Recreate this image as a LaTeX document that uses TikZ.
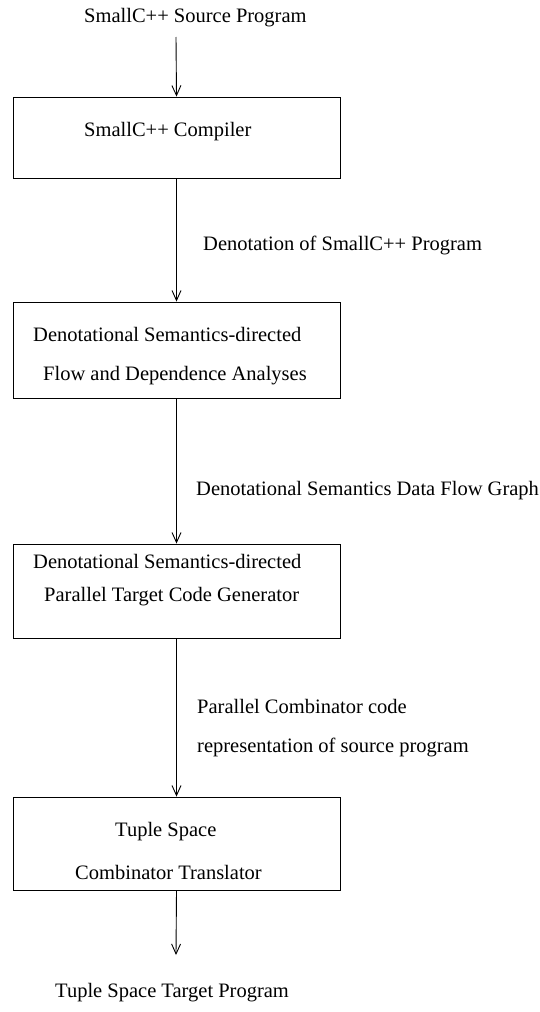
\documentclass[tikz,border=0pt]{standalone}
\usepackage{fontspec}
\setmainfont{Liberation Serif}
\usetikzlibrary{arrows.meta}
\begin{document}
\begin{tikzpicture}[x=1pt,y=-1pt,
  box/.style={draw, line width=0.9pt, minimum width=327pt, inner sep=0pt},
  lbl/.style={anchor=west, inner sep=0pt, font=\fontsize{20.5}{24}\selectfont},
  arr/.style={draw, line width=0.9pt, -{Straight Barb[length=10pt,width=9pt,line width=0.9pt]}}]
\useasboundingbox (0,0) rectangle (540,1012);
\fill[white] (0,0) rectangle (540,1012);
% boxes
\node[box, minimum height=81pt] (b1) at (176.5,137.5) {};
\node[box, minimum height=96pt] (b2) at (176.5,350) {};
\node[box, minimum height=94pt] (b3) at (176.5,591) {};
\node[box, minimum height=93pt] (b4) at (176.5,843.5) {};
% texts
\node[lbl] (src) at (84,18) {SmallC++ Source Program};
\node[lbl] (t1) at (84,132) {SmallC++ Compiler};
\node[lbl] (l1) at (203,245) {Denotation of SmallC++ Program};
\node[lbl] (t2a) at (33,334) {Denotational Semantics-directed};
\node[lbl] (t2b) at (43,376) {Flow and Dependence Analyses};
\node[lbl] (l2) at (196,491) {Denotational Semantics Data Flow Graph};
\node[lbl] (t3a) at (33,561) {Denotational Semantics-directed};
\node[lbl] (t3b) at (44,597) {Parallel Target Code Generator};
\node[lbl] (l3a) at (197,706) {Parallel Combinator code};
\node[lbl] (l3b) at (197,747) {representation of source program};
\node[lbl] (t4a) at (115,832) {Tuple Space};
\node[lbl] (t4b) at (75,872) {Combinator Translator};
\node[lbl] (dst) at (55,993) {Tuple Space Target Program};
% connector free ends
\coordinate (s0) at (176,37);
\coordinate (e5) at (176,955);
% connectors
\draw[arr] (s0) -- (b1.north);
\draw[arr] (b1.south) -- (b2.north);
\draw[arr] (b2.south) -- (b3.north);
\draw[arr] (b3.south) -- (b4.north);
\draw[arr] (b4.south) -- (e5);
\end{tikzpicture}
\end{document}
